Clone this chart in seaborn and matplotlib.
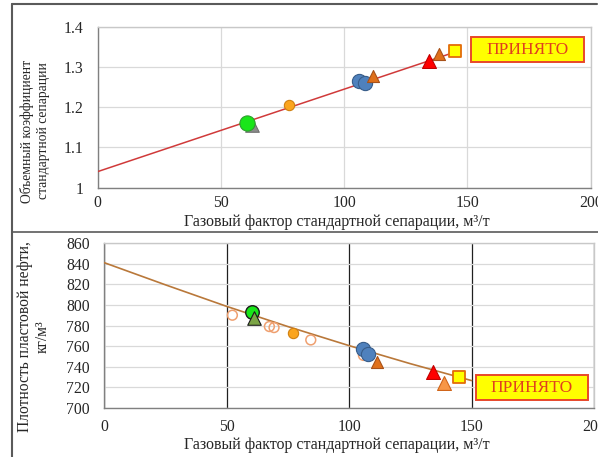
import matplotlib
matplotlib.use("Agg")
import matplotlib.pyplot as plt
from matplotlib.patches import Rectangle
from matplotlib.lines import Line2D
from matplotlib.ticker import MultipleLocator, FuncFormatter
import seaborn as sns

sns.set_theme(style="white")
plt.rcParams["font.family"] = ["Liberation Serif", "DejaVu Serif"]

# ---- data: volume factor (top) ----
top_trend_x = [0, 145]
top_trend_y = [1.04, 1.337]

top_green_x, top_green_y = [60.4], [1.160]
top_gray_tri_x, top_gray_tri_y = [62.4], [1.157]
top_orange_x, top_orange_y = [77.7], [1.205]
top_blue_x, top_blue_y = [106.1, 108.4], [1.265, 1.261]
top_brown_tri_x, top_brown_tri_y = [111.7, 138.5], [1.277, 1.332]
top_red_tri_x, top_red_tri_y = [134.4], [1.315]
top_square_x, top_square_y = [145.0], [1.340]

# ---- data: reservoir oil density (bottom) ----
bot_trend_x = [0, 25, 50, 75, 100, 125, 150]
bot_trend_y = [841, 819.5, 798.6, 779, 760.5, 743, 726.6]

bot_open_x = [52.4, 67.5, 69.4, 84.4, 105.9]
bot_open_y = [790, 779, 778, 766, 751]
bot_green_x, bot_green_y = [60.5], [793]
bot_olive_tri_x, bot_olive_tri_y = [61.2], [787]
bot_orange_x, bot_orange_y = [77.3], [772.5]
bot_blue_x, bot_blue_y = [105.9, 107.9], [757, 752]
bot_brown_tri_x, bot_brown_tri_y = [111.6], [745]
bot_red_tri_x, bot_red_tri_y = [134.2], [734.5]
bot_light_tri_x, bot_light_tri_y = [138.6], [724.5]
bot_square_x, bot_square_y = [145.0], [730]

label_text = "ПРИНЯТО"
x_label = "Газовый фактор стандартной сепарации, м³/т"
top_ylabel = "Объемный коэффициент\nстандартной сепарации"
bot_ylabel = "Плотность пластовой нефти,\nкг/м³"

W, H = 598, 457
fig = plt.figure(figsize=(W / 100, H / 100), dpi=100)
fig.patch.set_facecolor("white")


def px_axes(l, t, r, b):
    return fig.add_axes([l / W, (H - b) / H, (r - l) / W, (b - t) / H])


ax1 = px_axes(97.7, 26.7, 590.7, 187.7)
ax2 = px_axes(104, 243, 594, 408)

TXT = "#262626"
TICK_FS = 11.3


def style_axes(ax, ymaj, ymin, xpad):
    ax.set_xlim(0, 200)
    ax.xaxis.set_major_locator(MultipleLocator(50))
    ax.xaxis.set_minor_locator(MultipleLocator(10))
    ax.yaxis.set_major_locator(MultipleLocator(ymaj))
    ax.yaxis.set_minor_locator(MultipleLocator(ymin))
    for side in ["left", "bottom"]:
        ax.spines[side].set_color("#808080")
        ax.spines[side].set_linewidth(1.0)
    for side in ["top", "right"]:
        ax.spines[side].set_color("#C8C8C8")
        ax.spines[side].set_linewidth(1.0)
    ax.tick_params(axis="both", which="major", direction="inout", length=6,
                   width=0.8, color="#808080", labelsize=TICK_FS, labelcolor=TXT)
    ax.tick_params(axis="both", which="minor", direction="in", length=3,
                   width=0.8, color="#808080")
    ax.tick_params(axis="y", which="minor", direction="inout", length=4)
    ax.tick_params(axis="y", which="major", pad=7)
    ax.tick_params(axis="x", which="major", pad=xpad)
    ax.set_xlabel("")
    ax.set_ylabel("")


def scatter(ax, x, y, marker, s, fc, ec, lw=0.8, z=4):
    sns.scatterplot(x=x, y=y, ax=ax, marker=marker, s=s, color=ec,
                    facecolor=fc, edgecolor=ec, linewidth=lw, zorder=z,
                    legend=False)


# ---------------- top panel ----------------
style_axes(ax1, 0.1, 0.02, 2.5)
ax1.set_ylim(1.0, 1.4)
ax1.grid(True, which="major", color="#D9D9D9", linewidth=0.9)
ax1.set_axisbelow(True)
sns.lineplot(x=top_trend_x, y=top_trend_y, ax=ax1, color="#D03A3A",
             linewidth=1.1, zorder=3)
scatter(ax1, top_gray_tri_x, top_gray_tri_y, "^", 95, "#8C8C8C", "#707070")
scatter(ax1, top_green_x, top_green_y, "o", 120, "#19E619", "#2E9E2E", z=5)
scatter(ax1, top_orange_x, top_orange_y, "o", 55, "#FBA51E", "#D08010")
scatter(ax1, top_blue_x, top_blue_y, "o", 105, "#4F81BD", "#385D8A")
scatter(ax1, top_brown_tri_x, top_brown_tri_y, "^", 75, "#E0701A", "#A8521A")
scatter(ax1, top_red_tri_x, top_red_tri_y, "^", 100, "#FF0000", "#C00000")
scatter(ax1, top_square_x, top_square_y, "s", 80, "#FFFF00", "#E36C09", lw=1.3)
ax1.yaxis.set_major_formatter(FuncFormatter(
    lambda v, p: "1" if abs(v - 1) < 1e-9 else f"{v:.1f}"))

# ---------------- bottom panel ----------------
style_axes(ax2, 20, 4, 5)
ax2.set_ylim(700, 860)
ax2.grid(True, axis="y", which="major", color="#D9D9D9", linewidth=0.9)
ax2.grid(True, axis="x", which="major", color="#202020", linewidth=0.9)
ax2.set_axisbelow(True)
sns.lineplot(x=bot_trend_x, y=bot_trend_y, ax=ax2, color="#B9783A",
             linewidth=1.2, zorder=3)
scatter(ax2, bot_open_x, bot_open_y, "o", 50, "none", "#EFA070", lw=1.1)
scatter(ax2, bot_olive_tri_x, bot_olive_tri_y, "^", 95, "#7BA445", "#1A1A1A", z=5)
scatter(ax2, bot_green_x, bot_green_y, "o", 95, "#19E619", "#1A1A1A", lw=1.0, z=4)
scatter(ax2, bot_orange_x, bot_orange_y, "o", 55, "#FBA51E", "#D08010")
scatter(ax2, bot_blue_x, bot_blue_y, "o", 105, "#4F81BD", "#385D8A")
scatter(ax2, bot_brown_tri_x, bot_brown_tri_y, "^", 75, "#E0701A", "#A8521A")
scatter(ax2, bot_red_tri_x, bot_red_tri_y, "^", 100, "#FF0000", "#C00000")
scatter(ax2, bot_light_tri_x, bot_light_tri_y, "^", 100, "#F79646", "#D0651A")
scatter(ax2, bot_square_x, bot_square_y, "s", 80, "#FFFF00", "#E36C09", lw=1.3)

# "accepted" tags
for ax, (x0, y0, w, h) in [(ax1, (0.7566, 0.7826, 0.2298, 0.1553)),
                           (ax2, (0.7586, 0.0503, 0.2298, 0.1479))]:
    ax.add_patch(Rectangle((x0, y0), w, h, transform=ax.transAxes,
                           facecolor="#FFFF00", edgecolor="#E8482A",
                           linewidth=1.4, zorder=10, clip_on=False))
    ax.text(x0 + w / 2, y0 + h / 2 - 0.005, label_text, transform=ax.transAxes,
            ha="center", va="center", color="#E0401E", fontsize=12.5, zorder=11)

# axis titles
fig.text(337 / W, 1 - 222 / H, x_label, ha="center", va="center",
         fontsize=11.5, color=TXT)
fig.text(337 / W, 1 - 445 / H, x_label, ha="center", va="center",
         fontsize=11.5, color=TXT)
fig.text(35 / W, 1 - 131 / H, top_ylabel, ha="center", va="center",
         rotation=90, fontsize=9.8, color=TXT, linespacing=1.25)
fig.text(34 / W, 1 - 337 / H, bot_ylabel, ha="center", va="center",
         rotation=90, fontsize=11.2, color=TXT, linespacing=1.15)

# outer frame lines
fc = "#5A5A5A"
fig.add_artist(Line2D([12 / W, 12 / W], [1 - 4 / H, 0], color=fc, lw=1.5,
                      transform=fig.transFigure))
fig.add_artist(Line2D([12 / W, 597 / W], [1 - 4 / H, 1 - 4 / H], color=fc,
                      lw=1.5, transform=fig.transFigure))
fig.add_artist(Line2D([12 / W, 598 / W], [1 - 232 / H, 1 - 232 / H], color=fc,
                      lw=1.2, transform=fig.transFigure))

fig.savefig("out.png", dpi=100)
